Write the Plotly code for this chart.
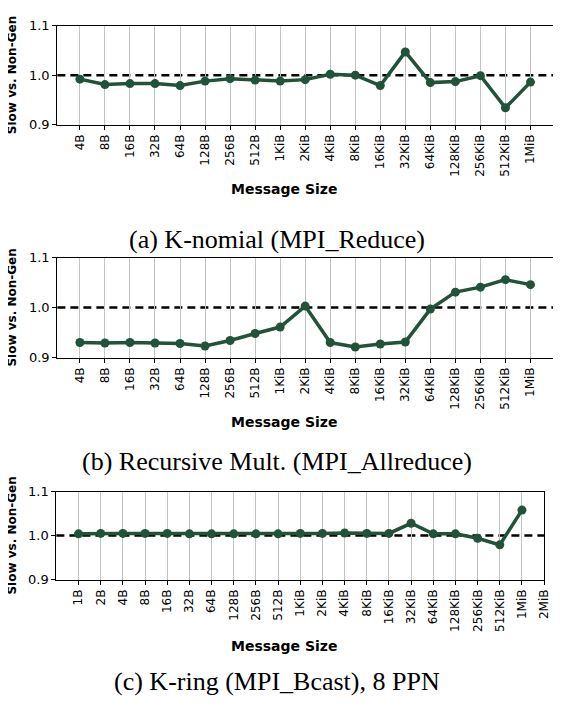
import plotly.graph_objects as go

# The page body has an 8px default margin, so the figure is drawn 8px in and
# all pixel positions below are page positions, converted by subtracting OFF.
OFF = 8
PAGE_W, PAGE_H = 561, 709
W, H = PAGE_W - OFF, PAGE_H - OFF

labels_a = ["4B", "8B", "16B", "32B", "64B", "128B", "256B", "512B", "1KiB", "2KiB",
            "4KiB", "8KiB", "16KiB", "32KiB", "64KiB", "128KiB", "256KiB", "512KiB", "1MiB"]
values_a = [0.992, 0.981, 0.983, 0.983, 0.979, 0.988, 0.993, 0.990, 0.988, 0.991,
            1.002, 1.000, 0.979, 1.047, 0.985, 0.987, 0.999, 0.934, 0.986]

labels_b = labels_a
values_b = [0.930, 0.929, 0.930, 0.929, 0.928, 0.923, 0.934, 0.948, 0.961, 1.003,
            0.930, 0.921, 0.927, 0.931, 0.997, 1.031, 1.041, 1.056, 1.046]

labels_c = ["1B", "2B", "4B", "8B", "16B", "32B", "64B", "128B", "256B", "512B",
            "1KiB", "2KiB", "4KiB", "8KiB", "16KiB", "32KiB", "64KiB", "128KiB",
            "256KiB", "512KiB", "1MiB", "2MiB"]
values_c = [1.004, 1.005, 1.005, 1.005, 1.005, 1.004, 1.004, 1.004, 1.004, 1.004,
            1.005, 1.005, 1.006, 1.005, 1.005, 1.028, 1.004, 1.004, 0.994, 0.979, 1.058]

captions = ["(a) K-nomial (MPI_Reduce)",
            "(b) Recursive Mult. (MPI_Allreduce)",
            "(c) K-ring (MPI_Bcast), 8 PPN"]
y_title = "Slow vs. Non-Gen"
x_title = "Message Size"
y_ticks = [0.9, 1.0, 1.1]
y_ticktext = ["0.9", "1.0", "1.1"]
ref_value = 1.0

LINE = "#21523a"

# panel geometry in page pixels: (left, right, top, bottom, xrange)
panels = [
    (58, 560, 19, 120, [-0.9, 18.9]),
    (58, 560, 256, 358, [-0.9, 18.9]),
    (57, 551, 495, 585, [-1, 21]),
]
xtitle_y = [186, 424, 653]
caption_y = [237, 464, 689]

data = [(labels_a, values_a), (labels_b, values_b), (labels_c, values_c)]


def px(x):
    return (x - OFF) / W


def py(y):
    return 1 - (y - OFF) / H


fig = go.Figure()
annotations = []
shapes = []
layout = dict(width=W, height=H, margin=dict(l=0, r=0, t=0, b=0),
              paper_bgcolor="white", plot_bgcolor="white", showlegend=False,
              font=dict(family="DejaVu Sans", color="black"))

for i, ((labels, vals), (l, r, t, b, xr)) in enumerate(zip(data, panels)):
    n = i + 1
    xa = "x" if n == 1 else f"x{n}"
    ya = "y" if n == 1 else f"y{n}"
    xs = list(range(len(vals)))
    fig.add_trace(go.Scatter(
        x=xs, y=vals, mode="lines+markers", xaxis=xa, yaxis=ya,
        line=dict(color=LINE, width=3.5),
        marker=dict(color=LINE, size=9),
    ))
    layout["xaxis" if n == 1 else f"xaxis{n}"] = dict(
        domain=[px(l), min(px(r), 1.0)], range=xr, anchor=ya,
        tickmode="array", tickvals=list(range(len(labels))), ticktext=labels,
        tickangle=-90, tickfont=dict(size=12, family="DejaVu Sans", color="black"),
        ticklabeloverflow="allow",
        showgrid=True, gridcolor="#c4c4c4", gridwidth=1,
        showline=True, linecolor="black", linewidth=1.2, mirror=True,
        ticks="outside", ticklen=4, tickcolor="black", zeroline=False,
    )
    layout["yaxis" if n == 1 else f"yaxis{n}"] = dict(
        domain=[py(b), py(t)], range=[0.9, 1.1], anchor=xa,
        tickmode="array", tickvals=y_ticks, ticktext=y_ticktext,
        tickfont=dict(size=13, family="DejaVu Sans", color="black"),
        showgrid=False, showline=True, linecolor="black", linewidth=1.2, mirror=True,
        ticks="outside", ticklen=4, tickcolor="black", zeroline=False,
    )
    shapes.append(dict(type="line", xref=f"{xa} domain", yref=ya,
                       x0=0, x1=1, y0=ref_value, y1=ref_value, layer="below",
                       line=dict(color="black", width=2.5, dash="8px,5px")))
    annotations.append(dict(text=f"<b>{y_title}</b>", xref="paper", yref="paper",
                            x=px(12), y=py((t + b) / 2), textangle=-90,
                            showarrow=False, xanchor="center", yanchor="middle",
                            font=dict(size=12, family="DejaVu Sans", color="black")))
    annotations.append(dict(text=f"<b>{x_title}</b>", xref="paper", yref="paper",
                            x=px(288), y=py(xtitle_y[i]),
                            showarrow=False, xanchor="center", yanchor="middle",
                            font=dict(size=14, family="DejaVu Sans", color="black")))
    annotations.append(dict(text=captions[i], xref="paper", yref="paper",
                            x=px(280), y=py(caption_y[i]),
                            showarrow=False, xanchor="center", yanchor="middle",
                            font=dict(size=26, family="Liberation Serif", color="black")))

layout["annotations"] = annotations
layout["shapes"] = shapes
fig.update_layout(**layout)
fig.write_html("out.html")
